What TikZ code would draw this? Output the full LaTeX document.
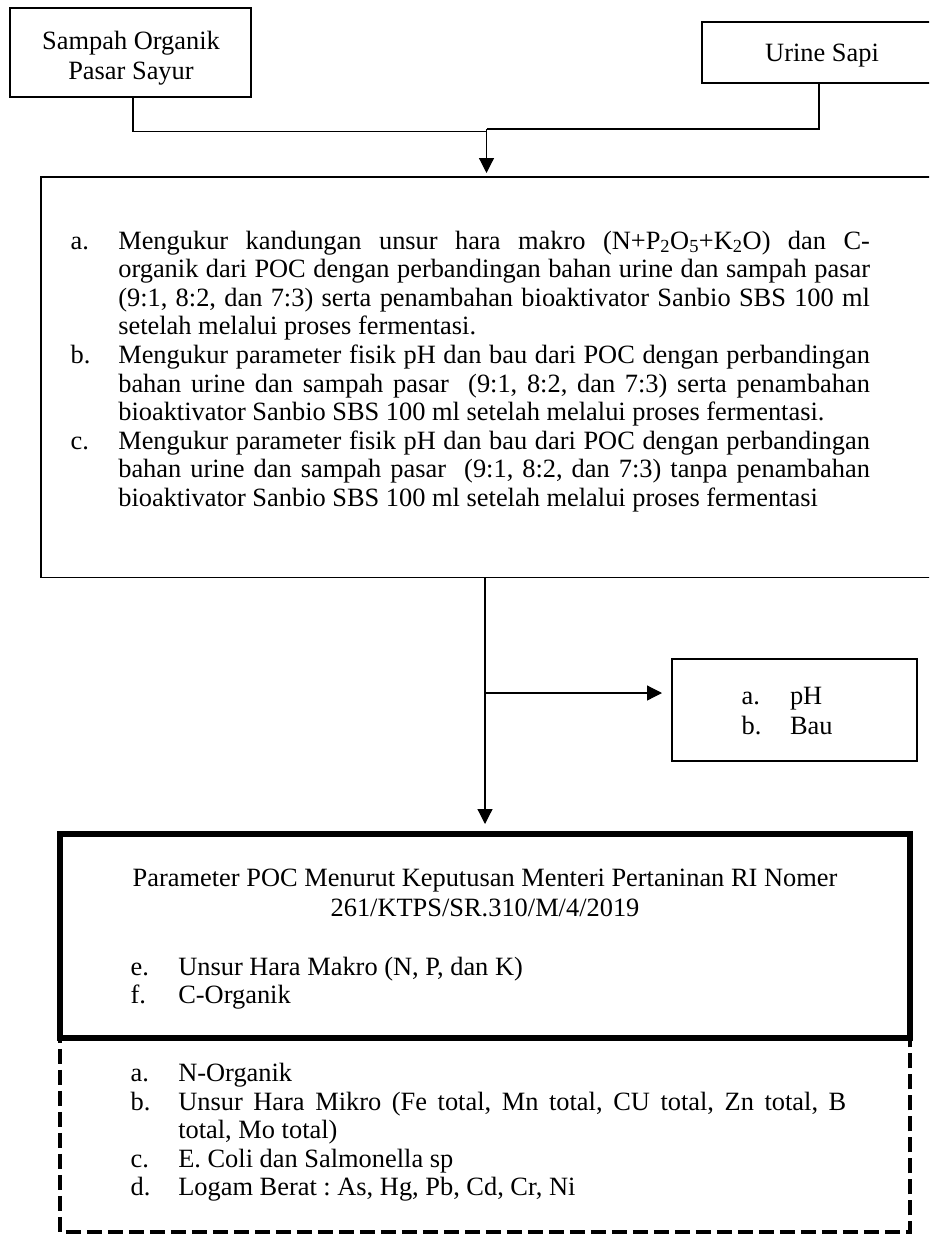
\documentclass[tikz,border=0pt]{standalone}
\usepackage{fontspec}
\setmainfont{Liberation Serif}
\usetikzlibrary{arrows.meta}
\newcommand\fsz{\fontsize{26.4pt}{28.6pt}\selectfont\frenchspacing}
\tikzset{
  box/.style={draw, line width=1.8pt, rectangle, inner sep=0pt, outer sep=0pt},
  thickbox/.style={draw, line width=5.5pt, rectangle, inner sep=0pt, outer sep=0pt},
  dashbox/.style={line width=3.5pt, dash pattern=on 15pt off 6pt, dash phase=-8pt},
  conn/.style={line width=1.2pt},
  arr/.style={conn, -{Triangle[length=15pt,width=15pt]}},
  txt/.style={inner sep=0pt, outer sep=0pt, font=\fsz},
  lbl/.style={txt, anchor=base west},
}
\begin{document}
\frenchspacing
\begin{tikzpicture}[x=1pt,y=-1pt]
\useasboundingbox (0,0) rectangle (929,1236);
\clip (0,0) rectangle (929,1236);

% ---- top boxes
\node[box, minimum width=241pt, minimum height=89pt] (b1) at (130.5,52.5) {};
\node[txt, anchor=base] (b1t1) at (131,49.5) {Sampah Organik};
\node[txt, anchor=base] (b1t2) at (131,79.5) {Pasar Sayur};

\node[box, minimum width=234pt, minimum height=61pt] (urine) at (819,52.5) {};
\node[txt, anchor=base] (urinet) at (822,62) {Urine Sapi};

% ---- main box
\node[box, minimum width=909pt, minimum height=400.5pt] (main) at (495.5,377.25) {};

\node[lbl] (la) at (70.7,249) {a.};
\node[lbl] (ma1) at (118.3,249) {\makebox[751.7pt][s]{Mengukur kandungan unsur hara makro (N+P\textsubscript{2}O\textsubscript{5}+K\textsubscript{2}O) dan C-}};
\node[lbl] (ma2) at (118.3,277.6) {\makebox[751.7pt][s]{organik dari POC dengan perbandingan bahan urine dan sampah pasar}};
\node[lbl] (ma3) at (118.3,306.2) {\makebox[751.7pt][s]{(9:1, 8:2, dan 7:3) serta penambahan bioaktivator Sanbio SBS 100 ml}};
\node[lbl] (ma4) at (118.3,334.8) {setelah melalui proses fermentasi.};

\node[lbl] (lb) at (70.7,363.4) {b.};
\node[lbl] (mb1) at (118.3,363.4) {\makebox[751.7pt][s]{Mengukur parameter fisik pH dan bau dari POC dengan perbandingan}};
\node[lbl] (mb2) at (118.3,392.0) {\makebox[751.7pt][s]{bahan urine dan sampah pasar\ \ (9:1, 8:2, dan 7:3) serta penambahan}};
\node[lbl] (mb3) at (118.3,420.6) {bioaktivator Sanbio SBS 100 ml setelah melalui proses fermentasi.};

\node[lbl] (lc) at (70.7,449.2) {c.};
\node[lbl] (mc1) at (118.3,449.2) {\makebox[751.7pt][s]{Mengukur parameter fisik pH dan bau dari POC dengan perbandingan}};
\node[lbl] (mc2) at (118.3,477.8) {\makebox[751.7pt][s]{bahan urine dan sampah pasar\ \ (9:1, 8:2, dan 7:3) tanpa penambahan}};
\node[lbl] (mc3) at (118.3,506.4) {bioaktivator Sanbio SBS 100 ml setelah melalui proses fermentasi};

% ---- pH box
\node[box, minimum width=245pt, minimum height=102pt] (ph) at (794.5,710) {};
\node[lbl] (pha) at (741.7,704) {a.};
\node[lbl] (phat) at (790,704) {pH};
\node[lbl] (phb) at (741.7,734) {b.};
\node[lbl] (phbt) at (790,734) {Bau};

% ---- bottom boxes
\node[thickbox, minimum width=850pt, minimum height=204pt] (bot) at (485,936) {};
\node[txt, anchor=base] (title1) at (485,886.7) {Parameter POC Menurut Keputusan Menteri Pertaninan RI Nomer};
\node[txt, anchor=base] (title2) at (485,916.7) {261/KTPS/SR.310/M/4/2019};
\node[lbl] (le) at (130.7,975) {e.};
\node[lbl] (te) at (178.3,975) {Unsur Hara Makro (N, P, dan K)};
\node[lbl] (lf) at (130.7,1003.5) {f.};
\node[lbl] (tf) at (178.3,1003.5) {C-Organik};

\coordinate (dl) at (60,1232);
\coordinate (dr) at (910,1232);
\draw[dashbox] ([yshift=-2.75pt]bot.south west) -- (dl) -- (dr) -- ([yshift=-2.75pt]bot.south east);

\node[lbl] (lna) at (130.7,1081.7) {a.};
\node[lbl] (tna) at (178.3,1081.7) {N-Organik};
\node[lbl] (lnb) at (130.7,1110.2) {b.};
\node[lbl] (tnb1) at (178.3,1110.2) {\makebox[668pt][s]{Unsur Hara Mikro (Fe total, Mn total, CU total, Zn total, B}};
\node[lbl] (tnb2) at (178.3,1138.7) {total, Mo total)};
\node[lbl] (lnc) at (130.7,1167.2) {c.};
\node[lbl] (tnc) at (178.3,1167.2) {E. Coli dan Salmonella sp};
\node[lbl] (lnd) at (130.7,1195.7) {d.};
\node[lbl] (tnd) at (178.3,1195.7) {Logam Berat : As, Hg, Pb, Cd, Cr, Ni};

% ---- connectors
\coordinate (jl) at (487,131.5);
\coordinate (jr) at (486.5,129);
\coordinate (axis) at (485,0);
\coordinate (br) at (485,693);
\draw[conn] (b1.south -| 133,0) |- (jl);
\draw[conn] (urine.south) |- (jr);
\draw[arr, shorten >=4pt] (jr) -- (jr |- main.north);
\draw[arr, shorten >=10pt] (main.south -| axis) -- (bot.north -| axis);
\draw[arr, shorten >=10pt] (br) -- (br -| ph.west);
\end{tikzpicture}
\end{document}
